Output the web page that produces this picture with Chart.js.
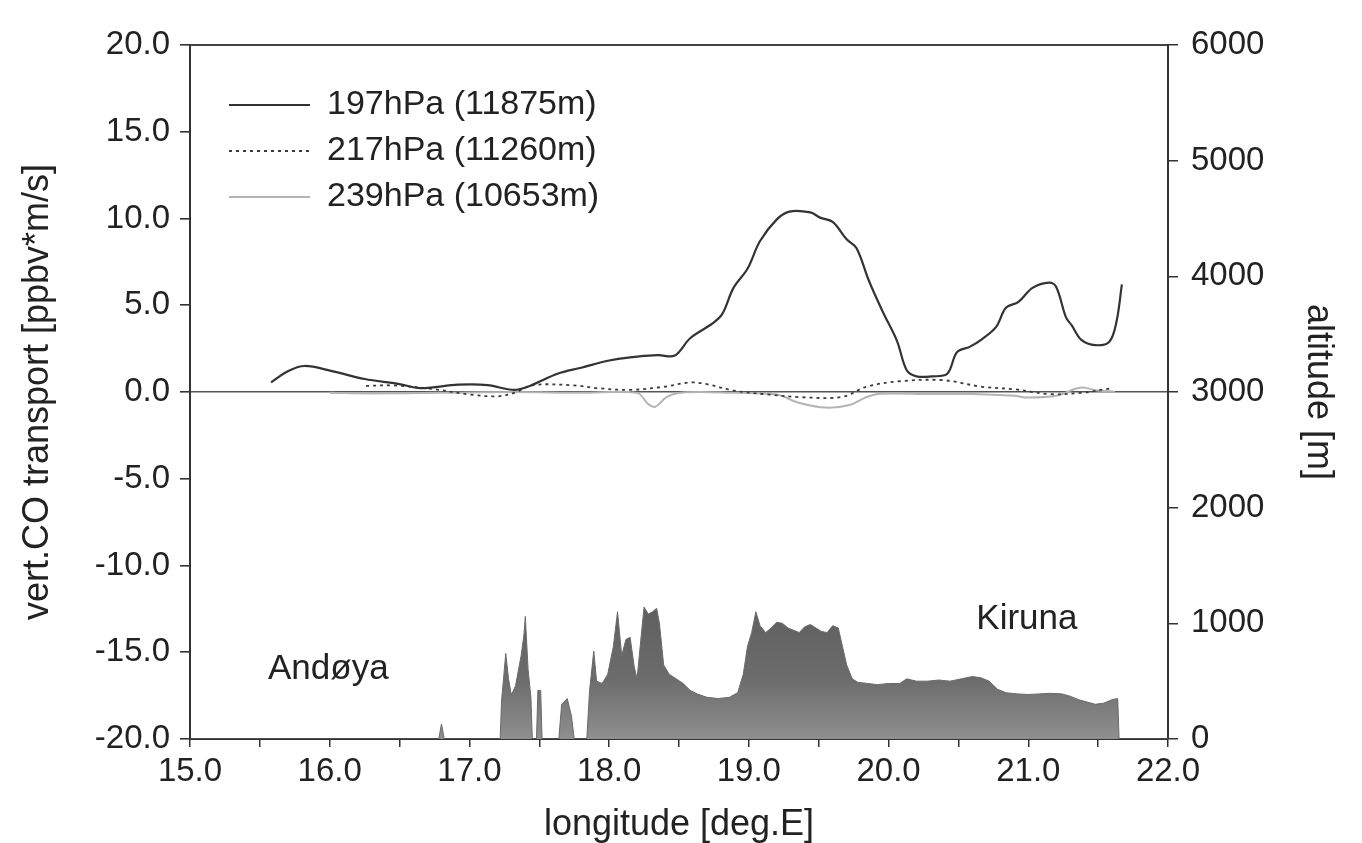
<!DOCTYPE html>
<html>
<head>
<meta charset="utf-8">
<style>
  html, body { margin: 0; padding: 0; background: #ffffff; }
  canvas { display: block; }
</style>
<script src="https://cdn.jsdelivr.net/npm/chart.js@4/dist/chart.umd.min.js"></script>
</head>
<body>
<canvas id="c" width="1362" height="843"></canvas>
<script>
// ---------------- data ----------------
const seriesLabels = ['197hPa (11875m)', '217hPa (11260m)', '239hPa (10653m)'];

const lon197 = [15.58, 15.70, 15.82, 16.01, 16.25, 16.49, 16.65, 16.92, 17.13, 17.32, 17.44, 17.63, 17.80, 17.99, 18.15, 18.35, 18.47,
  18.58, 18.74, 18.81, 18.89, 18.99, 19.08, 19.20, 19.29, 19.44, 19.51, 19.60, 19.70, 19.77, 19.86, 19.96, 20.06, 20.13, 20.20,
  20.31, 20.42, 20.49, 20.58, 20.67, 20.77, 20.84, 20.93, 21.03, 21.15, 21.20, 21.27, 21.31, 21.38, 21.48, 21.58, 21.63, 21.67];
const co197 = [0.55, 1.20, 1.50, 1.22, 0.75, 0.47, 0.22, 0.42, 0.40, 0.12, 0.38, 1.05, 1.40, 1.80, 2.00, 2.12, 2.10,
  3.10, 3.95, 4.50, 6.00, 7.10, 8.70, 9.95, 10.40, 10.35, 10.05, 9.80, 8.80, 8.30, 6.40, 4.60, 2.95, 1.25, 0.90,
  0.90, 1.05, 2.30, 2.60, 3.05, 3.75, 4.85, 5.20, 6.00, 6.30, 6.05, 4.30, 3.85, 3.00, 2.70, 2.90, 4.00, 6.20];

const lon217 = [16.26, 16.46, 16.73, 17.01, 17.20, 17.32, 17.46, 17.75, 17.92, 18.15, 18.39, 18.58, 18.70, 18.89, 19.15,
  19.37, 19.67, 19.84, 20.08, 20.39, 20.67, 20.91, 21.15, 21.38, 21.58];
const co217 = [0.35, 0.38, 0.18, -0.15, -0.25, -0.05, 0.40, 0.38, 0.22, 0.12, 0.30, 0.55, 0.45, 0.08, -0.15,
  -0.30, -0.28, 0.30, 0.62, 0.68, 0.30, 0.15, -0.12, -0.05, 0.20];

const lon239 = [16.00, 16.30, 16.80, 17.30, 17.80, 18.20, 18.28, 18.33, 18.42, 18.55, 18.90, 19.20, 19.35, 19.55, 19.72,
  19.84, 19.94, 20.30, 20.60, 20.90, 21.00, 21.20, 21.37, 21.50, 21.62];
const co239 = [-0.05, -0.08, -0.05, 0.00, -0.05, -0.05, -0.70, -0.85, -0.25, -0.02, -0.05, -0.15, -0.60, -0.90, -0.75,
  -0.30, -0.10, -0.12, -0.12, -0.22, -0.32, -0.22, 0.25, 0.08, 0.02];

const terrainLon = [15.00, 16.78, 16.80, 16.82, 17.22, 17.23, 17.26, 17.28, 17.30, 17.33, 17.37, 17.39, 17.40, 17.42, 17.44, 17.45,
  17.48, 17.49, 17.51, 17.52, 17.64, 17.66, 17.70, 17.73, 17.75,
  17.84, 17.86, 17.89, 17.91, 17.95, 17.99, 18.03, 18.06, 18.09, 18.12, 18.15, 18.18, 18.20, 18.23, 18.25, 18.28, 18.31, 18.34,
  18.36, 18.39, 18.43, 18.48, 18.53, 18.58, 18.63, 18.70, 18.78, 18.86, 18.92, 18.96, 18.99, 19.02, 19.05, 19.08, 19.12, 19.16,
  19.20, 19.24, 19.28, 19.32, 19.36, 19.40, 19.44, 19.48, 19.52, 19.56, 19.60, 19.64, 19.67, 19.70, 19.74, 19.78, 19.85, 19.92,
  20.00, 20.08, 20.13, 20.20, 20.28, 20.36, 20.44, 20.52, 20.60, 20.66, 20.72, 20.78, 20.84, 20.92, 21.00, 21.08, 21.16, 21.24,
  21.30, 21.36, 21.42, 21.48, 21.54, 21.60, 21.64, 21.65, 22.00];
const terrainAlt = [0, 0, 130, 0, 0, 330, 740, 520, 380, 460, 720, 900, 1060, 600, 360, 0,
  0, 420, 420, 0, 0, 300, 350, 200, 0,
  0, 420, 760, 500, 480, 560, 800, 1100, 720, 860, 880, 620, 520, 900, 1140, 1080, 1100, 1130,
  1000, 640, 560, 520, 480, 420, 390, 360, 350, 360, 400, 560, 800, 920, 1100, 980, 920, 960,
  1010, 1000, 960, 940, 920, 970, 990, 960, 930, 920, 980, 960, 800, 640, 520, 490, 480, 470,
  480, 480, 520, 500, 500, 510, 500, 520, 540, 530, 500, 430, 400, 390, 385, 390, 395, 390,
  370, 340, 320, 300, 310, 340, 350, 0, 0];

const placeNames = ['Andøya', 'Kiruna'];
const placeLon = [15.99, 20.99];
const placeVal = [-16.0, -13.1];

// ---------------- helpers ----------------
const FONT = '"Liberation Sans", Arial, Helvetica, sans-serif';
const TEXT = '#222222';
const pts = (xs, ys) => xs.map((x, i) => ({ x: x, y: ys[i] }));

const placeLabels = {
  id: 'placeLabels',
  afterDatasetsDraw(chart) {
    const { ctx, scales } = chart;
    ctx.save();
    ctx.font = '35px ' + FONT;
    ctx.fillStyle = TEXT;
    ctx.textAlign = 'center';
    ctx.textBaseline = 'middle';
    placeNames.forEach((n, i) => {
      ctx.fillText(n, scales.x.getPixelForValue(placeLon[i]), scales.y.getPixelForValue(placeVal[i]));
    });
    ctx.restore();
  }
};

const legendShift = {
  id: 'legendShift',
  afterLayout(chart) {
    const lg = chart.legend;
    if (!lg) return;
    const w = lg.width, h = lg.height;
    lg.left = chart.chartArea.left + 27;
    lg.top = chart.chartArea.top + 31;
    lg.right = lg.left + w;
    lg.bottom = lg.top + h;
  }
};

new Chart(document.getElementById('c'), {
  type: 'line',
  data: {
    datasets: [
      {
        label: seriesLabels[0], data: pts(lon197, co197), yAxisID: 'y',
        borderColor: '#333333', borderWidth: 2.2, pointRadius: 0, tension: 0.35, fill: false, order: 1
      },
      {
        label: seriesLabels[1], data: pts(lon217, co217), yAxisID: 'y',
        borderColor: '#3a3a3a', borderWidth: 1.8, borderDash: [3, 4], pointRadius: 0, tension: 0.35, fill: false, order: 2
      },
      {
        label: seriesLabels[2], data: pts(lon239, co239), yAxisID: 'y',
        borderColor: '#b4b4b4', borderWidth: 2, pointRadius: 0, tension: 0.35, fill: false, order: 3
      },
      {
        label: 'terrain', data: pts(terrainLon, terrainAlt), yAxisID: 'y2',
        borderColor: '#6a6a6a', borderWidth: 1, pointRadius: 0, tension: 0, fill: 'origin', order: 4,
        backgroundColor: (c) => {
          const ch = c.chart;
          if (!ch.chartArea || !ch.scales.y2) return '#6e6e6e';
          const s = ch.scales.y2;
          const g = ch.ctx.createLinearGradient(0, s.getPixelForValue(1150), 0, s.getPixelForValue(0));
          g.addColorStop(0, '#5f5f5f');
          g.addColorStop(0.55, '#6c6c6c');
          g.addColorStop(1, '#8f8f8f');
          return g;
        }
      }
    ]
  },
  options: {
    responsive: false,
    devicePixelRatio: 1,
    animation: false,
    layout: { padding: { top: 45, left: 0, right: 0, bottom: 0 } },
    plugins: {
      tooltip: { enabled: false },
      legend: {
        position: 'chartArea',
        align: 'start',
        labels: {
          font: { size: 34, family: FONT },
          color: TEXT,
          usePointStyle: true,
          pointStyle: 'line',
          pointStyleWidth: 81,
          boxHeight: 34,
          padding: 12,
          generateLabels: (chart) => {
            const base = Chart.defaults.plugins.legend.labels.generateLabels(chart);
            return base.filter((it) => it.datasetIndex < 3).map((it) => {
              const ds = chart.data.datasets[it.datasetIndex];
              it.lineDash = ds.borderDash || [];
              it.strokeStyle = ds.borderColor;
              it.lineWidth = ds.borderWidth;
              it.pointStyle = 'line';
              return it;
            });
          }
        }
      }
    },
    scales: {
      x: {
        type: 'linear', position: 'bottom', min: 15, max: 22,
        afterFit: (s) => { s.height = 104; },
        ticks: {
          stepSize: 0.5, autoSkip: false, maxRotation: 0, padding: 5,
          color: TEXT, font: { size: 33, family: FONT },
          callback: (v) => Number.isInteger(v) ? v.toFixed(1) : ''
        },
        grid: { drawOnChartArea: false, tickLength: 8, tickColor: '#333333', lineWidth: 1.5 },
        border: { color: '#333333', width: 2 },
        title: { display: true, text: 'longitude [deg.E]', color: TEXT,
          font: { size: 36, family: FONT, lineHeight: 1 }, padding: { top: 0, bottom: 0 } }
      },
      xTop: {
        type: 'linear', position: 'top', min: 15, max: 22,
        afterFit: (s) => { s.height = 0; },
        ticks: { display: false },
        grid: { display: false, drawTicks: false },
        border: { display: true, color: '#444444', width: 2 }
      },
      y: {
        type: 'linear', position: 'left', min: -20, max: 20,
        afterFit: (s) => { s.width = 190; },
        ticks: { stepSize: 5, padding: 10, color: TEXT, font: { size: 33, family: FONT },
          callback: (v) => v.toFixed(1) },
        grid: {
          color: (c) => (c.tick && c.tick.value === 0) ? '#555555' : 'rgba(0,0,0,0)',
          lineWidth: 1.6, tickColor: '#333333', tickLength: 10
        },
        border: { color: '#333333', width: 2 },
        title: { display: true, text: 'vert.CO transport [ppbv*m/s]', color: TEXT,
          font: { size: 36, family: FONT }, padding: { top: 16, bottom: 0 } }
      },
      y2: {
        type: 'linear', position: 'right', min: 0, max: 6000,
        afterFit: (s) => { s.width = 194; },
        ticks: { stepSize: 1000, padding: 13, color: TEXT, font: { size: 33, family: FONT },
          callback: (v) => String(v) },
        grid: { drawOnChartArea: false, tickColor: '#333333', tickLength: 10, lineWidth: 1.5 },
        border: { color: '#333333', width: 2 },
        title: { display: true, text: 'altitude [m]', color: TEXT,
          font: { size: 36, family: FONT }, padding: { top: 22, bottom: 0 } }
      }
    }
  },
  plugins: [legendShift, placeLabels]
});
</script>
</body>
</html>
